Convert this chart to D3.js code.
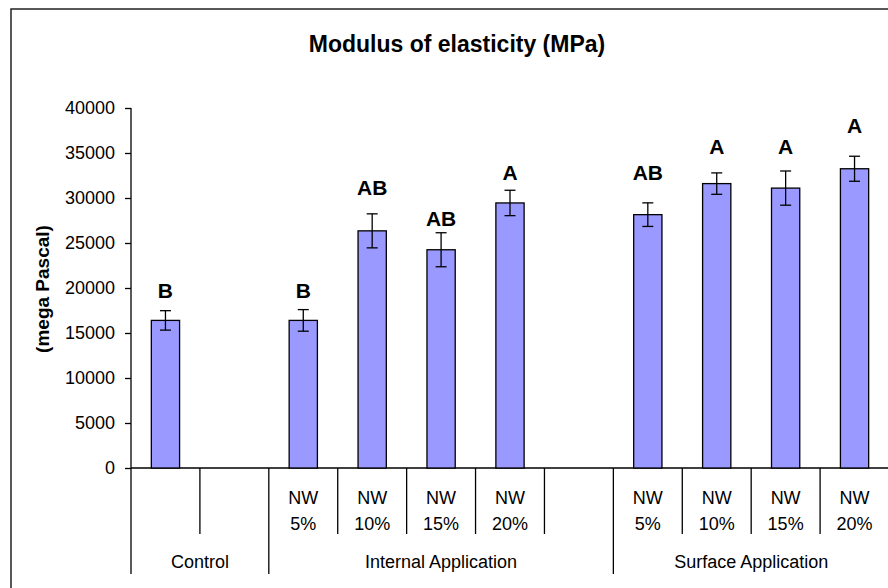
<!DOCTYPE html>
<html>
<head>
<meta charset="utf-8">
<script src="https://cdn.jsdelivr.net/npm/d3@7"></script>
<style>
  html, body { margin: 0; padding: 0; background: #fff; }
  svg { display: block; font-family: Arial, "Liberation Sans", sans-serif; }
</style>
</head>
<body>
<svg id="chart" width="888" height="588"></svg>
<script>
// ---- data ----
const slotKeys   = ["c1", "c2", "i5", "i10", "i15", "i20", "iGap", "s5", "s10", "s15", "s20"];
const tickLine1  = ["", "", "NW", "NW", "NW", "NW", "", "NW", "NW", "NW", "NW"];
const tickLine2  = ["", "", "5%", "10%", "15%", "20%", "", "5%", "10%", "15%", "20%"];
const values     = [16400, null, 16400, 26350, 24250, 29450, null, 28150, 31600, 31100, 33250];
const errors     = [1080, null, 1200, 1890, 1890, 1410, null, 1310, 1190, 1900, 1390];
const letters    = ["B", "", "B", "AB", "AB", "A", "", "AB", "A", "A", "A"];
const letterAt   = [18900, null, 18900, 30330, 26890, 32000, null, 32000, 34850, 34850, 37200];
const groupNames = ["Control", "Internal Application", "Surface Application"];
const groupFirst = [0, 2, 7];
const groupLast  = [1, 6, 10];
const yTicks     = [0, 5000, 10000, 15000, 20000, 25000, 30000, 35000, 40000];
const titleText  = "Modulus of elasticity (MPa)";
const yTitleText = "(mega Pascal)";

(function () {
// ---- layout ----
const svg = d3.select("#chart");
const pLeft = 131, pRight = 889, pTop = 108, pBottom = 468;

const x = d3.scaleBand().domain(slotKeys).range([pLeft, pRight]).paddingInner(0).paddingOuter(0);
const y = d3.scaleLinear().domain([0, 40000]).range([pBottom, pTop]);

// outer border
svg.append("rect")
  .attr("x", 11).attr("y", 9).attr("width", 900).attr("height", 600)
  .attr("fill", "none").attr("stroke", "#222").attr("stroke-width", 1.5);

// title
svg.append("text")
  .attr("x", 457).attr("y", 51.5).attr("text-anchor", "middle")
  .attr("font-size", 23).attr("font-weight", "bold").attr("fill", "#000")
  .text(titleText);

// y axis title
svg.append("text")
  .attr("transform", "translate(49,289) rotate(-90)")
  .attr("text-anchor", "middle")
  .attr("font-size", 19).attr("font-weight", "bold").attr("fill", "#000")
  .text(yTitleText);

// y axis
const yAxis = d3.axisLeft(y).tickValues(yTicks).tickSize(6).tickPadding(10).tickFormat(d3.format("d"));
const gy = svg.append("g").attr("transform", `translate(${pLeft},0)`).call(yAxis);
gy.select(".domain").remove();
gy.selectAll(".tick line").attr("stroke", "#000").attr("stroke-width", 1.3);
gy.selectAll(".tick text").attr("font-size", 18).attr("fill", "#000").attr("font-family", "Arial, 'Liberation Sans', sans-serif");
svg.append("line")
  .attr("x1", pLeft).attr("x2", pLeft).attr("y1", y(40000)).attr("y2", 574)
  .attr("stroke", "#000").attr("stroke-width", 1.3);

// x axis line
svg.append("line")
  .attr("x1", pLeft).attr("x2", 888).attr("y1", pBottom).attr("y2", pBottom)
  .attr("stroke", "#000").attr("stroke-width", 1.3);

// separators
const boundaries = slotKeys.slice(1).map((k, i) => ({ pos: x(k), idx: i + 1 }));
svg.append("g").selectAll("line").data(boundaries).join("line")
  .attr("x1", d => d.pos).attr("x2", d => d.pos)
  .attr("y1", pBottom)
  .attr("y2", d => groupFirst.includes(d.idx) ? 574 : 534)
  .attr("stroke", "#000").attr("stroke-width", 1.3);

// category tick labels
const catG = svg.append("g").attr("font-size", 18).attr("fill", "#000").attr("text-anchor", "middle");
slotKeys.forEach((k, i) => {
  const cx = x(k) + x.bandwidth() / 2;
  if (tickLine1[i]) catG.append("text").attr("x", cx).attr("y", 504).text(tickLine1[i]);
  if (tickLine2[i]) catG.append("text").attr("x", cx).attr("y", 530).text(tickLine2[i]);
});

// group labels
groupNames.forEach((g, i) => {
  const x0 = x(slotKeys[groupFirst[i]]);
  const x1 = x(slotKeys[groupLast[i]]) + x.bandwidth();
  svg.append("text").attr("x", (x0 + x1) / 2).attr("y", 568)
    .attr("text-anchor", "middle").attr("font-size", 18).attr("fill", "#000").text(g);
});

// bars
const barW = x.bandwidth() * 0.41;
const rows = slotKeys.map((k, i) => ({ k, v: values[i], e: errors[i], l: letters[i], la: letterAt[i] }))
  .filter(d => d.v != null);

svg.append("g").selectAll("rect").data(rows).join("rect")
  .attr("x", d => x(d.k) + x.bandwidth() / 2 - barW / 2)
  .attr("y", d => y(d.v))
  .attr("width", barW)
  .attr("height", d => y(0) - y(d.v))
  .attr("fill", "#9999FF").attr("stroke", "#000").attr("stroke-width", 1.3);

// error bars
const eg = svg.append("g").attr("stroke", "#000").attr("stroke-width", 1.3);
rows.forEach(d => {
  const cx = x(d.k) + x.bandwidth() / 2;
  eg.append("line").attr("x1", cx).attr("x2", cx).attr("y1", y(d.v + d.e)).attr("y2", y(d.v - d.e));
  eg.append("line").attr("x1", cx - 5.5).attr("x2", cx + 5.5).attr("y1", y(d.v + d.e)).attr("y2", y(d.v + d.e));
  eg.append("line").attr("x1", cx - 5.5).attr("x2", cx + 5.5).attr("y1", y(d.v - d.e)).attr("y2", y(d.v - d.e));
});

// significance letters
svg.append("g").selectAll("text").data(rows).join("text")
  .attr("x", d => x(d.k) + x.bandwidth() / 2)
  .attr("y", d => y(d.la))
  .attr("text-anchor", "middle").attr("font-size", 21).attr("font-weight", "bold").attr("fill", "#000")
  .text(d => d.l);
})();
</script>
</body>
</html>
